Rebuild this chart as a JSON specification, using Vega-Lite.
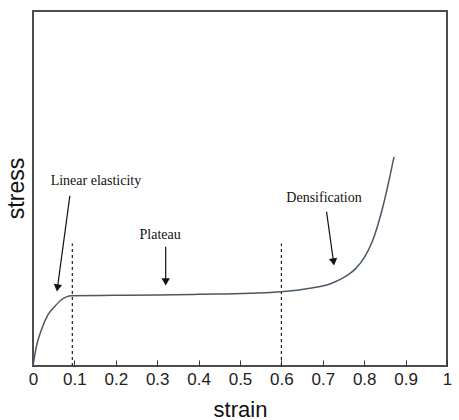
{
  "$schema": "https://vega.github.io/schema/vega-lite/v6.json",
  "width": 414,
  "height": 355,
  "autosize": {"type": "none"},
  "padding": {"left": 33, "top": 11, "right": 12, "bottom": 54},
  "background": "white",
  "datasets": {
    "curve": [
      {"strain": 0, "stress": 0},
      {"strain": 0.008, "stress": 0.054},
      {"strain": 0.02, "stress": 0.101},
      {"strain": 0.036, "stress": 0.144},
      {"strain": 0.052, "stress": 0.167},
      {"strain": 0.068, "stress": 0.186},
      {"strain": 0.093, "stress": 0.198},
      {"strain": 0.2, "stress": 0.199},
      {"strain": 0.3, "stress": 0.2},
      {"strain": 0.4, "stress": 0.202},
      {"strain": 0.524, "stress": 0.205},
      {"strain": 0.599, "stress": 0.209},
      {"strain": 0.669, "stress": 0.219},
      {"strain": 0.717, "stress": 0.231},
      {"strain": 0.749, "stress": 0.248},
      {"strain": 0.76, "stress": 0.256},
      {"strain": 0.78, "stress": 0.275},
      {"strain": 0.8, "stress": 0.305},
      {"strain": 0.82, "stress": 0.352},
      {"strain": 0.845, "stress": 0.448},
      {"strain": 0.872, "stress": 0.589}
    ],
    "guides": [
      {"strain": 0.095, "low": 0, "high": 0.345},
      {"strain": 0.6, "low": 0, "high": 0.345}
    ],
    "labels": [
      {"strain": 0.152, "stress": 0.521, "text": "Linear elasticity"},
      {"strain": 0.307, "stress": 0.369, "text": "Plateau"},
      {"strain": 0.703, "stress": 0.473, "text": "Densification"}
    ],
    "arrows": [
      {"name": "Linear elasticity", "x1": 0.089, "y1": 0.479, "x2": 0.059, "y2": 0.22},
      {"name": "Plateau", "x1": 0.3205, "y1": 0.336, "x2": 0.3205, "y2": 0.237},
      {"name": "Densification", "x1": 0.709, "y1": 0.435, "x2": 0.726, "y2": 0.293}
    ]
  },
  "layer": [
    {
      "data": {"name": "guides"},
      "mark": {"type": "rule", "color": "#222", "strokeWidth": 1.2, "strokeDash": [3, 3]},
      "encoding": {
        "x": {"field": "strain", "type": "quantitative"},
        "y": {"field": "low", "type": "quantitative"},
        "y2": {"field": "high"}
      }
    },
    {
      "data": {"name": "curve"},
      "mark": {"type": "line", "interpolate": "monotone", "color": "#4a5866", "strokeWidth": 1.5},
      "encoding": {
        "x": {"field": "strain", "type": "quantitative",
          "scale": {"domain": [0, 1], "nice": false},
          "axis": {
            "title": "strain",
            "values": [0, 0.1, 0.2, 0.3, 0.4, 0.5, 0.6, 0.7, 0.8, 0.9, 1],
            "format": "~g",
            "grid": false,
            "domain": false,
            "tickSize": -6,
            "tickColor": "#333",
            "labelPadding": 11,
            "labelFont": "Liberation Sans",
            "labelFontSize": 17,
            "labelColor": "#222",
            "labelFlush": false,
            "titleFont": "Liberation Sans",
            "titleFontSize": 22,
            "titleFontWeight": "normal",
            "titleColor": "#111",
            "titleY": 43,
            "titleBaseline": "middle"
          }
        },
        "y": {"field": "stress", "type": "quantitative",
          "scale": {"domain": [0, 1], "nice": false},
          "axis": {
            "title": "stress",
            "labels": false,
            "ticks": false,
            "grid": false,
            "domain": false,
            "titleFont": "Liberation Sans",
            "titleFontSize": 23,
            "titleFontWeight": "normal",
            "titleColor": "#111",
            "titleX": -17,
            "titleY": 177,
            "titleBaseline": "middle",
            "titleAlign": "center"
          }
        }
      }
    },
    {
      "data": {"name": "arrows"},
      "mark": {"type": "rule", "color": "#111", "strokeWidth": 1.2},
      "encoding": {
        "x": {"field": "x1", "type": "quantitative"},
        "y": {"field": "y1", "type": "quantitative"},
        "x2": {"field": "x2"},
        "y2": {"field": "y2"}
      }
    },
    {
      "data": {"name": "arrows"},
      "transform": [{"filter": "datum.name == 'Linear elasticity'"}],
      "mark": {"type": "point", "shape": "triangle-down", "filled": true, "color": "#111", "size": 70, "opacity": 1, "angle": 8},
      "encoding": {
        "x": {"field": "x2", "type": "quantitative"},
        "y": {"field": "y2", "type": "quantitative"}
      }
    },
    {
      "data": {"name": "arrows"},
      "transform": [{"filter": "datum.name == 'Plateau'"}],
      "mark": {"type": "point", "shape": "triangle-down", "filled": true, "color": "#111", "size": 70, "opacity": 1},
      "encoding": {
        "x": {"field": "x2", "type": "quantitative"},
        "y": {"field": "y2", "type": "quantitative"}
      }
    },
    {
      "data": {"name": "arrows"},
      "transform": [{"filter": "datum.name == 'Densification'"}],
      "mark": {"type": "point", "shape": "triangle-down", "filled": true, "color": "#111", "size": 70, "opacity": 1, "angle": 352},
      "encoding": {
        "x": {"field": "x2", "type": "quantitative"},
        "y": {"field": "y2", "type": "quantitative"}
      }
    },
    {
      "data": {"name": "labels"},
      "mark": {"type": "text", "font": "Liberation Serif", "fontSize": 14, "color": "#111", "baseline": "middle"},
      "encoding": {
        "x": {"field": "strain", "type": "quantitative"},
        "y": {"field": "stress", "type": "quantitative"},
        "text": {"field": "text"}
      }
    }
  ],
  "config": {
    "view": {"stroke": "#4d4d4d", "strokeWidth": 2}
  }
}
